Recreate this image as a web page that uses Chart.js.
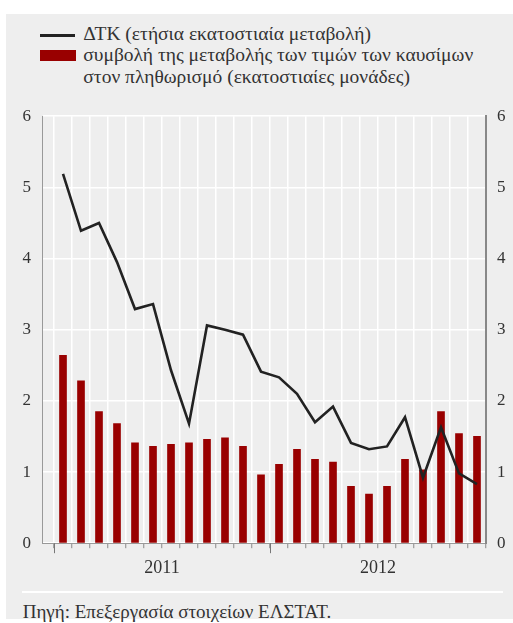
<!DOCTYPE html>
<html>
<head>
<meta charset="utf-8">
<script src="https://cdn.jsdelivr.net/npm/chart.js@4/dist/chart.umd.min.js"></script>
<style>
  body { margin:0; background:#fff; font-family:'Liberation Serif', serif; color:#333; }
  #panel { position:absolute; left:6px; top:14px; width:507px; height:605px; background:#eeeeee; }
  #legend { position:absolute; left:34px; top:8.6px; font-size:19.5px; line-height:21.7px; white-space:nowrap; }
  .lg { position:relative; padding-left:43.3px; }
  .sw-line { position:absolute; left:0; top:11.3px; width:35px; height:2.7px; background:#222; }
  .sw-bar { position:absolute; left:0; top:6.2px; width:36px; height:11px; background:#990000; }
  #wrap { position:absolute; left:0; top:80.8px; width:507px; height:485.2px; }
  #rule { position:absolute; left:16px; top:577px; width:481px; height:2px; background:#fff; }
  #source { position:absolute; left:16.7px; top:587.4px; font-size:19px; line-height:21px; white-space:nowrap; }
</style>
</head>
<body>
<div id="panel">
  <div id="legend">
    <div class="lg"><span class="sw-line"></span>ΔΤΚ (ετήσια εκατοστιαία μεταβολή)</div>
    <div class="lg"><span class="sw-bar"></span>συμβολή της μεταβολής των τιμών των καυσίμων<br>στον πληθωρισμό (εκατοστιαίες μονάδες)</div>
  </div>
  <div id="wrap"><canvas id="chart"></canvas></div>
  <div id="rule"></div>
  <div id="source">Πηγή: Επεξεργασία στοιχείων ΕΛΣΤΑΤ.</div>
</div>
<script>
// Monthly data, Jan 2011 - Dec 2012
const MONTHS = ['01/11','02/11','03/11','04/11','05/11','06/11','07/11','08/11','09/11','10/11','11/11','12/11',
                '01/12','02/12','03/12','04/12','05/12','06/12','07/12','08/12','09/12','10/12','11/12','12/12'];
const YEARS = ['2011', '2012'];

// CPI, annual % change
const CPI = [5.19, 4.39, 4.50, 3.95, 3.29, 3.36, 2.43, 1.68, 3.06, 3.00, 2.93, 2.41,
             2.33, 2.10, 1.70, 1.92, 1.41, 1.32, 1.36, 1.77, 0.92, 1.63, 0.98, 0.83];
// contribution of fuel prices (percentage points)
const FUEL = [2.64, 2.28, 1.85, 1.68, 1.41, 1.36, 1.39, 1.41, 1.46, 1.48, 1.36, 0.96,
              1.11, 1.32, 1.18, 1.14, 0.80, 0.69, 0.80, 1.18, 1.03, 1.85, 1.54, 1.50];

const Y_TICKS = [0, 1, 2, 3, 4, 5, 6];

const TXT = '#333';
const SERIF = "'Liberation Serif', serif";

// slot boundaries between months
function boundaries() {
  const out = [];
  for (let i = 0; i <= MONTHS.length; i++) out.push(i - 0.5);
  return out;
}

// longer ticks where each year starts
const yearTicks = {
  id:'yearTicks',
  afterDraw(chart) {
    const x = chart.scales.x, ctx = chart.ctx, top = chart.chartArea.bottom;
    ctx.save();
    ctx.strokeStyle = '#777';
    ctx.lineWidth = 1;
    YEARS.forEach((y, k) => {
      const px = Math.round(x.getPixelForValue(k * 12 - 0.5)) + 0.5;
      ctx.beginPath(); ctx.moveTo(px, top); ctx.lineTo(px, top + 10); ctx.stroke();
    });
    ctx.restore();
  }
};

new Chart(document.getElementById('chart'), {
  data: {
    datasets: [
      { type:'line', label:'ΔΤΚ', data: CPI.map((v, i) => ({ x:i, y:v })),
        borderColor:'#222', borderWidth:2.6, pointRadius:0, tension:0, yAxisID:'y', order:0 },
      { type:'bar', label:'συμβολή', data: FUEL.map((v, i) => ({ x:i, y:v })),
        backgroundColor:'#990000', barThickness:7, yAxisID:'y', order:1 }
    ]
  },
  options: {
    responsive:true, maintainAspectRatio:false, animation:false,
    layout:{ padding:{ top:10, left:0, right:0, bottom:0 } },
    plugins:{ legend:{ display:false }, tooltip:{ enabled:false } },
    scales: {
      x: {
        type:'linear', min:-1.167, max:MONTHS.length - 0.5, offset:false, bounds:'data',
        afterBuildTicks: s => { s.ticks = boundaries().map(v => ({ value:v })); },
        afterFit: s => { s.height = 37; },
        grid:{ offset:false, color:'#fff', lineWidth:1.5, drawTicks:true, tickLength:5, tickColor:'#888', tickWidth:1 },
        border:{ display:true, color:'#999', width:1 },
        ticks:{
          autoSkip:false, maxRotation:0, color:TXT, font:{ family:SERIF, size:18 }, padding:9,
          callback: v => {
            const k = YEARS.findIndex((y, j) => Math.abs(v - (j * 12 + 5.5)) < 0.01);
            return k >= 0 ? YEARS[k] : '';
          }
        }
      },
      y: {
        position:'left', min:0, max:6,
        afterBuildTicks: s => { s.ticks = Y_TICKS.map(v => ({ value:v })); },
        afterFit: s => { s.width = 36; },
        grid:{ color:'#fff', lineWidth:1.5, drawTicks:false },
        border:{ display:true, color:'#999', width:1 },
        ticks:{ color:TXT, font:{ family:SERIF, size:17 }, padding:11 }
      },
      y2: {
        position:'right', min:0, max:6,
        afterBuildTicks: s => { s.ticks = Y_TICKS.map(v => ({ value:v })); },
        afterFit: s => { s.width = 27; },
        grid:{ display:false, drawTicks:false },
        border:{ display:true, color:'#888', width:2 },
        ticks:{ color:TXT, font:{ family:SERIF, size:17 }, padding:11 }
      }
    }
  },
  plugins:[yearTicks]
});
</script>
</body>
</html>
